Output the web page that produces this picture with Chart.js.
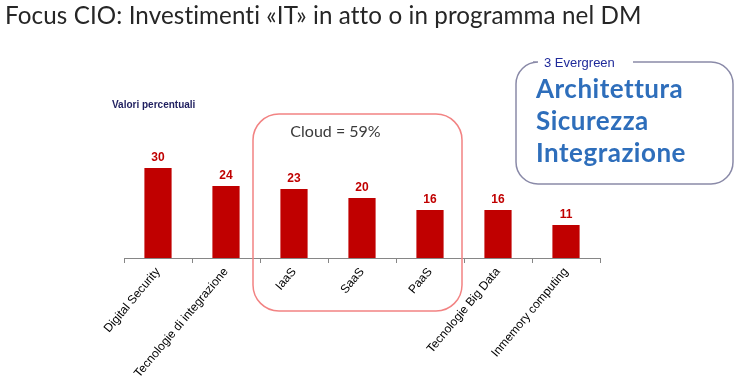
<!DOCTYPE html>
<html>
<head>
<meta charset="utf-8">
<script src="https://cdn.jsdelivr.net/npm/chart.js@4.4.0/dist/chart.umd.min.js"></script>
<style>
html,body{margin:0;padding:0;background:#fff;}
#wrap{position:relative;width:740px;height:391px;}
</style>
</head>
<body>
<div id="wrap"><canvas id="c" width="740" height="391"></canvas></div>
<script>
const titleText = 'Focus CIO: Investimenti «IT» in atto o in programma nel DM';
const subtitleText = 'Valori percentuali';
const categories = ['Digital Security', 'Tecnologie di integrazione', 'IaaS', 'SaaS', 'PaaS', 'Tecnologie Big Data', 'Inmemory computing'];
const values = [30, 24, 23, 20, 16, 16, 11];
const cloudLabel = 'Cloud = 59%';
const cloudRange = [2, 4];
const evergreenTitle = '3 Evergreen';
const evergreenItems = ['Architettura', 'Sicurezza', 'Integrazione'];

const RED = '#C00000';

const decor = {
  id: 'decor',
  afterDraw(chart) {
    const ctx = chart.ctx;
    const x = chart.scales.x;
    ctx.save();
    // title
    ctx.fillStyle = '#262626';
    ctx.font = '400 24.2px Lato';
    ctx.letterSpacing = '0.1px';
    ctx.textBaseline = 'alphabetic';
    ctx.textAlign = 'left';
    ctx.fillText(titleText, 5, 23.5);
    ctx.letterSpacing = '0px';
    // subtitle
    ctx.fillStyle = '#1F1F5F';
    ctx.font = 'bold 10px "Liberation Sans", Arial';
    ctx.textBaseline = 'middle';
    ctx.fillText(subtitleText, 112, 105);
    // value labels
    const meta = chart.getDatasetMeta(0);
    ctx.fillStyle = RED;
    ctx.font = 'bold 12px "Liberation Sans", Arial';
    ctx.textAlign = 'center';
    ctx.textBaseline = 'alphabetic';
    meta.data.forEach((bar, i) => {
      ctx.fillText(String(values[i]), bar.x, bar.y - 7);
    });
    // cloud box
    const half = (x.getPixelForTick(1) - x.getPixelForTick(0)) / 2;
    const left = x.getPixelForTick(cloudRange[0]) - half - 7;
    const right = x.getPixelForTick(cloudRange[1]) + half - 2;
    const top = 114, bottom = 311;
    ctx.strokeStyle = '#F28383';
    ctx.lineWidth = 1.5;
    ctx.beginPath();
    ctx.roundRect(left, top, right - left, bottom - top, 26);
    ctx.stroke();
    ctx.fillStyle = '#3A3A3A';
    ctx.font = '16px Lato';
    ctx.textAlign = 'center';
    ctx.textBaseline = 'middle';
    ctx.fillText(cloudLabel, (left + right) / 2 - 22, 132);
    // evergreen box
    const bl = 516, bt = 62, br = 733, bb = 184, r = 22;
    ctx.strokeStyle = '#8A8AA8';
    ctx.lineWidth = 1.5;
    ctx.beginPath();
    ctx.moveTo(533, bt);
    ctx.lineTo(bl + r, bt);
    ctx.arcTo(bl, bt, bl, bt + r, r);
    ctx.lineTo(bl, bb - r);
    ctx.arcTo(bl, bb, bl + r, bb, r);
    ctx.lineTo(br - r, bb);
    ctx.arcTo(br, bb, br, bb - r, r);
    ctx.lineTo(br, bt + r);
    ctx.arcTo(br, bt, br - r, bt, r);
    ctx.lineTo(633, bt);
    ctx.stroke();
    ctx.fillStyle = '#1F2A9A';
    ctx.font = '13px "Liberation Sans", Arial';
    ctx.textAlign = 'left';
    ctx.textBaseline = 'middle';
    ctx.fillText(evergreenTitle, 544, 63);
    ctx.fillStyle = '#2E6EBB';
    ctx.font = 'bold 26px Lato';
    ctx.letterSpacing = '0.5px';
    ctx.textBaseline = 'alphabetic';
    evergreenItems.forEach((t, i) => ctx.fillText(t, 536, 98 + i * 32));
    ctx.restore();
  }
};

new Chart(document.getElementById('c'), {
  type: 'bar',
  data: {
    labels: categories,
    datasets: [{
      data: values,
      backgroundColor: RED,
      borderWidth: 0,
      categoryPercentage: 1,
      barPercentage: 0.4
    }]
  },
  options: {
    responsive: false,
    animation: false,
    events: [],
    layout: { padding: { left: 124, right: 140, top: 138, bottom: 0 } },
    plugins: { legend: { display: false }, tooltip: { enabled: false }, title: { display: false } },
    scales: {
      x: {
        grid: { drawOnChartArea: false, drawTicks: true, tickLength: 5, color: '#868686', offset: true },
        border: { display: true, color: '#868686', width: 1 },
        ticks: {
          color: '#000',
          font: { family: '"Liberation Sans", Arial', size: 12 },
          minRotation: 50, maxRotation: 50, autoSkip: false, padding: 2
        },
        afterFit(scale) { scale.height = 133; }
      },
      y: { display: false, min: 0, max: 40 }
    }
  },
  plugins: [decor]
});
</script>
</body>
</html>
